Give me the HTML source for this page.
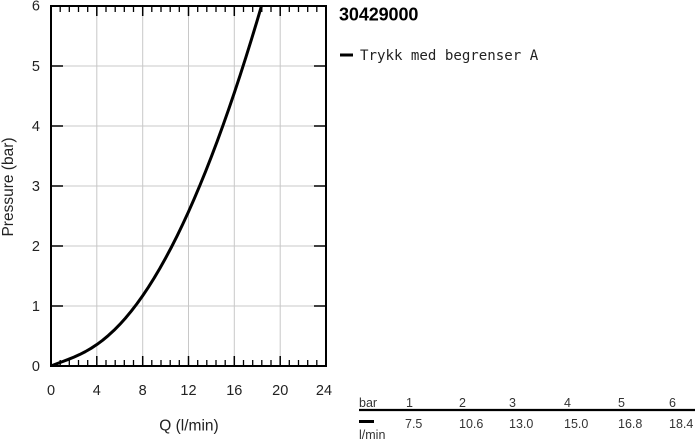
<!DOCTYPE html>
<html><head><meta charset="utf-8"><style>
html,body{margin:0;padding:0;background:#fff;}
svg{display:block;}
.s{font-family:"Liberation Sans",Arial,sans-serif;}
.m{font-family:"DejaVu Sans Mono","Liberation Mono",monospace;}
</style></head><body>
<svg width="700" height="439" viewBox="0 0 700 439" xmlns="http://www.w3.org/2000/svg">
<rect width="700" height="439" fill="#fff"/>
<!-- grid -->
<g stroke="#c8c8c8" stroke-width="1">
<line x1="96.8" y1="6" x2="96.8" y2="366"/>
<line x1="142.7" y1="6" x2="142.7" y2="366"/>
<line x1="188.5" y1="6" x2="188.5" y2="366"/>
<line x1="234.3" y1="6" x2="234.3" y2="366"/>
<line x1="280.2" y1="6" x2="280.2" y2="366"/>
<line x1="51" y1="66" x2="326" y2="66"/>
<line x1="51" y1="126" x2="326" y2="126"/>
<line x1="51" y1="186" x2="326" y2="186"/>
<line x1="51" y1="246" x2="326" y2="246"/>
<line x1="51" y1="306" x2="326" y2="306"/>
</g>
<!-- ticks -->
<g stroke="#000" stroke-width="1.5">
<line x1="51" y1="66" x2="63" y2="66"/><line x1="314" y1="66" x2="326" y2="66"/>
<line x1="51" y1="126" x2="63" y2="126"/><line x1="314" y1="126" x2="326" y2="126"/>
<line x1="51" y1="186" x2="63" y2="186"/><line x1="314" y1="186" x2="326" y2="186"/>
<line x1="51" y1="246" x2="63" y2="246"/><line x1="314" y1="246" x2="326" y2="246"/>
<line x1="51" y1="306" x2="63" y2="306"/><line x1="314" y1="306" x2="326" y2="306"/>
</g>
<g stroke="#000" stroke-width="1.5">
<line x1="96.8" y1="366" x2="96.8" y2="356"/>
<line x1="142.7" y1="366" x2="142.7" y2="356"/>
<line x1="188.5" y1="366" x2="188.5" y2="356"/>
<line x1="234.3" y1="366" x2="234.3" y2="356"/>
<line x1="280.2" y1="366" x2="280.2" y2="356"/>
<line x1="96.8" y1="6" x2="96.8" y2="16"/>
<line x1="142.7" y1="6" x2="142.7" y2="16"/>
<line x1="188.5" y1="6" x2="188.5" y2="16"/>
<line x1="234.3" y1="6" x2="234.3" y2="16"/>
<line x1="280.2" y1="6" x2="280.2" y2="16"/>
</g>
<g stroke="#000" stroke-width="1.3">
<path d="M60.2 366v-6M69.3 366v-6M78.5 366v-6M87.7 366v-6
M106 366v-6M115.2 366v-6M124.3 366v-6M133.5 366v-6
M151.8 366v-6M161 366v-6M170.2 366v-6M179.3 366v-6
M197.7 366v-6M206.8 366v-6M216 366v-6M225.2 366v-6
M243.5 366v-6M252.7 366v-6M261.8 366v-6M271 366v-6
M289.3 366v-6M298.5 366v-6M307.7 366v-6M316.8 366v-6
M60.2 6v6M69.3 6v6M78.5 6v6M87.7 6v6
M106 6v6M115.2 6v6M124.3 6v6M133.5 6v6
M151.8 6v6M161 6v6M170.2 6v6M179.3 6v6
M197.7 6v6M206.8 6v6M216 6v6M225.2 6v6
M243.5 6v6M252.7 6v6M261.8 6v6M271 6v6
M289.3 6v6M298.5 6v6M307.7 6v6M316.8 6v6" fill="none"/>
</g>
<!-- curve -->
<clipPath id="c"><rect x="51" y="6" width="275" height="360"/></clipPath>
<polyline clip-path="url(#c)" fill="none" stroke="#000" stroke-width="3" stroke-linejoin="round" stroke-linecap="round"
points="51,366 56.73,363.73 62.46,361.6 68.19,359.44 73.92,357.13 79.65,354.55 85.37,351.63 91.1,348.31 96.83,344.54 102.56,340.29 108.29,335.54 114.02,330.27 119.75,324.46 125.48,318.11 131.21,311.2 136.94,303.75 142.67,295.74 148.4,287.17 154.12,278.05 159.85,268.37 165.58,258.14 171.31,247.36 177.04,236.03 182.77,224.15 188.5,211.72 194.23,198.74 199.96,185.22 205.69,171.16 211.42,156.56 217.15,141.41 222.87,125.72 228.6,109.5 234.33,92.73 240.06,75.43 245.79,57.58 251.52,39.2 257.25,20.29 262.98,0.84"/>
<!-- frame -->
<rect x="51" y="6" width="275" height="360" fill="none" stroke="#000" stroke-width="2"/>
<!-- y labels -->
<g class="s" font-size="14.5" fill="#222" text-anchor="end">
<text x="40" y="10.5">6</text>
<text x="40" y="71">5</text>
<text x="40" y="131">4</text>
<text x="40" y="191">3</text>
<text x="40" y="251">2</text>
<text x="40" y="311">1</text>
<text x="40" y="371">0</text>
</g>
<g class="s" font-size="14.5" fill="#222" text-anchor="middle">
<text x="51" y="395">0</text>
<text x="96.8" y="395">4</text>
<text x="142.7" y="395">8</text>
<text x="188.5" y="395">12</text>
<text x="234.3" y="395">16</text>
<text x="280.2" y="395">20</text>
<text x="324" y="395">24</text>
</g>
<text class="s" x="189" y="430.5" font-size="15.5" fill="#222" text-anchor="middle">Q (l/min)</text>
<text class="s" transform="translate(13,187) rotate(-90)" font-size="15.5" fill="#222" text-anchor="middle">Pressure (bar)</text>
<!-- title/legend -->
<text class="s" x="339" y="20.5" font-size="18" font-weight="bold" fill="#000" letter-spacing="-0.1">30429000</text>
<line x1="340" y1="55" x2="353" y2="55" stroke="#000" stroke-width="3"/>
<text class="m" x="360" y="60" font-size="14.1" fill="#222">Trykk med begrenser A</text>
<!-- table -->
<g class="s" font-size="12.5" fill="#333">
<text x="359" y="407">bar</text>
<text x="406" y="407">1</text>
<text x="459" y="407">2</text>
<text x="509" y="407">3</text>
<text x="564" y="407">4</text>
<text x="618" y="407">5</text>
<text x="669" y="407">6</text>
<text x="405" y="428">7.5</text>
<text x="459" y="428">10.6</text>
<text x="509" y="428">13.0</text>
<text x="564" y="428">15.0</text>
<text x="618" y="428">16.8</text>
<text x="669" y="428">18.4</text>
<text x="359" y="439">l/min</text>
</g>
<line x1="359" y1="410" x2="695" y2="410" stroke="#000" stroke-width="2.2"/>
<line x1="359" y1="421.5" x2="374" y2="421.5" stroke="#000" stroke-width="3"/>
</svg>
</body></html>
